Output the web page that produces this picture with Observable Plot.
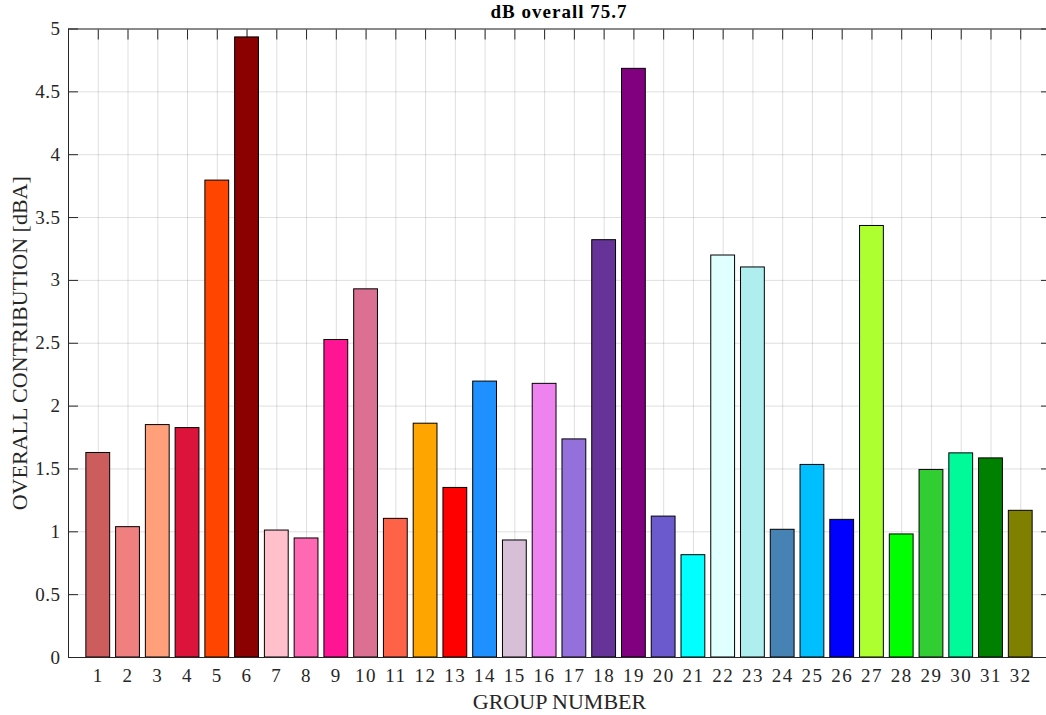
<!DOCTYPE html>
<html><head><meta charset="utf-8">
<script src="https://cdn.jsdelivr.net/npm/d3@7"></script>
<script src="https://cdn.jsdelivr.net/npm/@observablehq/plot@0.6"></script>
<style>
body{margin:0;background:#fff;}
#wrap{position:relative;width:1046px;height:715px;overflow:hidden;}
#title{position:absolute;top:1px;left:68px;width:982px;text-align:center;font:bold 19px "Liberation Serif","Times New Roman",serif;color:#000;letter-spacing:1px;}
#wrap svg g[aria-label="x-axis tick label"] text{letter-spacing:1.5px;}
#wrap svg g[aria-label="y-axis tick label"] text{letter-spacing:0.5px;}
</style></head><body>
<div id="wrap"><div id="title">dB overall 75.7</div></div>
<script>
const groups = [1,2,3,4,5,6,7,8,9,10,11,12,13,14,15,16,17,18,19,20,21,22,23,24,25,26,27,28,29,30,31,32];
const values = [1.627,1.037,1.849,1.825,3.794,4.933,1.010,0.947,2.526,2.929,1.103,1.860,1.349,2.195,0.931,2.177,
                1.735,3.320,4.683,1.121,0.814,3.198,3.103,1.016,1.532,1.095,3.433,0.979,1.492,1.624,1.584,1.167];
const colors = ["#CD5C5C","#F08080","#FFA07A","#DC143C","#FF4500","#8B0000","#FFC0CB","#FF69B4",
                "#FF1493","#DB7093","#FF6347","#FFA500","#FF0000","#1E90FF","#D8BFD8","#EE82EE",
                "#9370DB","#663399","#800080","#6A5ACD","#00FFFF","#E0FFFF","#AFEEEE","#4682B4",
                "#00BFFF","#0000FF","#ADFF2F","#00FF00","#32CD32","#00FA9A","#008000","#808000"];
const yTicks = [0,0.5,1,1.5,2,2.5,3,3.5,4,4.5,5];
const xLabel = "GROUP NUMBER";
const yLabel = "OVERALL CONTRIBUTION [dBA]";

const data = groups.map((g, i) => ({group: g, value: values[i], color: colors[i]}));
const axisColor = "#262626";

const chart = Plot.plot({
  width: 1046, height: 715,
  marginLeft: 68, marginRight: -4, marginTop: 28.5, marginBottom: 58,
  style: {fontFamily: '"Liberation Serif","Times New Roman",serif', fontSize: "18px", color: axisColor, background: "transparent", overflow: "visible"},
  x: {type: "band", domain: groups, range: [68, 1050], paddingInner: 0.2, paddingOuter: 0.6, align: 0.5, round: false},
  y: {domain: [0, 5], range: [657, 28.5]},
  color: {type: "identity"},
  marks: [
    Plot.gridX(groups, {stroke: axisColor, strokeOpacity: 0.15}),
    Plot.gridY(yTicks, {stroke: axisColor, strokeOpacity: 0.15}),
    Plot.axisX(groups, {anchor: "top", tickSize: -10, fill: "none", label: null, stroke: axisColor}),
    Plot.axisX(groups, {anchor: "bottom", tickSize: 0, tickPadding: 11, label: null, fontSize: 19, fill: axisColor}),
    Plot.axisY(yTicks, {anchor: "left", tickSize: -10, fill: "none", label: null, stroke: axisColor}),
    Plot.axisY(yTicks, {anchor: "left", tickSize: 0, tickPadding: 8, label: null, fontSize: 19, fill: axisColor, tickFormat: d => String(d)}),
    Plot.axisY(yTicks, {anchor: "right", tickSize: -10, fill: "none", label: null, stroke: axisColor}),
    Plot.barY(data, {x: "group", y: "value", fill: "color", stroke: "#000", strokeWidth: 1}),
    Plot.frame({stroke: axisColor}),
    Plot.text([xLabel], {frameAnchor: "bottom", dy: 51, fontSize: 22, fill: axisColor, lineAnchor: "bottom", textAnchor: "middle"}),
    Plot.text([yLabel], {frameAnchor: "left", dx: -49, rotate: -90, fontSize: 22, fill: axisColor, lineAnchor: "middle", textAnchor: "middle"})
  ]
});
document.getElementById("wrap").appendChild(chart);
</script>
</body></html>
